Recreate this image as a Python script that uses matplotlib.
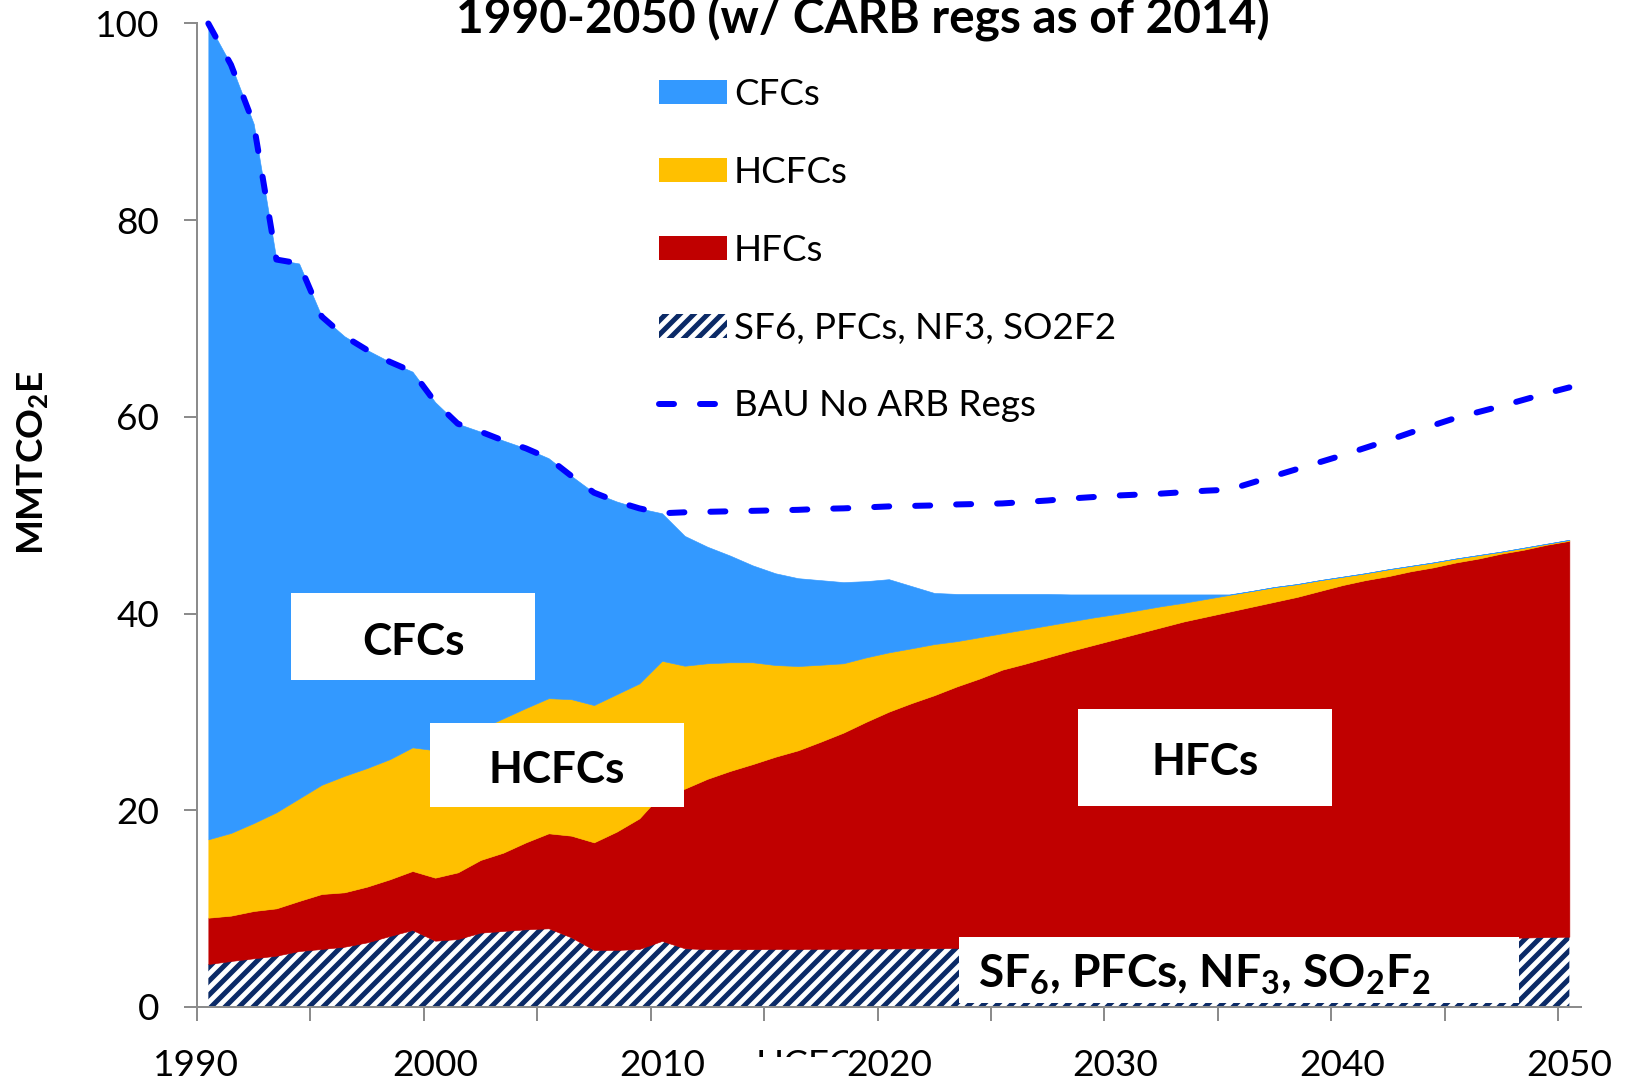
import numpy as np
import matplotlib
matplotlib.use("Agg")
import matplotlib.pyplot as plt
from matplotlib.patches import Patch, Rectangle
from matplotlib.lines import Line2D
from matplotlib.transforms import Bbox, ScaledTranslation

# ---------------- data (MMTCO2E) ----------------
years = list(range(1990, 2051))

sf6_pfc = [4.37, 4.68, 4.95, 5.22, 5.69, 5.90, 6.13, 6.57, 7.22, 7.83,
           6.74, 6.91, 7.56, 7.73, 7.90, 8.00, 7.08, 5.80, 5.80, 5.90,
           6.72, 5.97, 5.88, 5.88, 5.88, 5.90, 5.90, 5.92, 5.92, 5.94,
           5.95, 5.96, 5.97, 6.00, 6.04, 6.09, 6.13, 6.17, 6.21, 6.26,
           6.30, 6.34, 6.38, 6.43, 6.47, 6.51, 6.55, 6.60, 6.64, 6.68,
           6.72, 6.77, 6.81, 6.85, 6.89, 6.94, 6.98, 7.02, 7.06, 7.11,
           7.15]

hfcs = [4.71, 4.61, 4.81, 4.81, 5.09, 5.59, 5.53, 5.67, 5.76, 6.00,
        6.41, 6.78, 7.39, 7.96, 8.84, 9.66, 10.34, 10.94, 12.03, 13.28,
        14.98, 16.23, 17.32, 18.12, 18.82, 19.55, 20.20, 21.06, 21.98, 23.06,
        24.08, 24.94, 25.73, 26.60, 27.36, 28.21, 28.77, 29.38, 29.99, 30.54,
        31.10, 31.66, 32.22, 32.77, 33.23, 33.69, 34.15, 34.60, 35.06, 35.62,
        36.18, 36.63, 36.99, 37.45, 37.81, 38.26, 38.62, 39.08, 39.44, 39.89,
        40.25]

hcfcs = [7.97, 8.41, 8.94, 9.77, 10.42, 11.11, 11.84, 12.06, 12.22, 12.57,
         12.95, 13.51, 13.35, 13.66, 13.66, 13.74, 13.88, 13.96, 13.97, 13.72,
         13.50, 12.50, 11.75, 11.05, 10.35, 9.32, 8.57, 7.82, 7.05, 6.55,
         6.03, 5.57, 5.20, 4.60, 4.20, 3.70, 3.50, 3.25, 3.00, 2.80,
         2.55, 2.35, 2.15, 1.90, 1.80, 1.70, 1.60, 1.50, 1.30, 1.10,
         0.85, 0.70, 0.70, 0.55, 0.50, 0.40, 0.35, 0.20, 0.20, 0.10,
         0.10]

cfcs = [82.95, 78.10, 71.10, 56.20, 54.40, 47.60, 44.70, 42.50, 40.40, 38.20,
        35.40, 32.10, 30.20, 28.25, 26.40, 24.40, 22.70, 21.60, 19.60, 17.80,
        15.00, 13.20, 11.85, 10.85, 9.85, 9.33, 8.93, 8.60, 8.25, 7.75,
        7.44, 6.33, 5.20, 4.80, 4.40, 4.00, 3.60, 3.20, 2.75, 2.35,
        2.00, 1.60, 1.20, 0.85, 0.45, 0.05, 0.0, 0.0, 0.0, 0.0,
        0.0, 0.0, 0.0, 0.0, 0.0, 0.0, 0.0, 0.0, 0.0, 0.0,
        0.0]

bau_no_arb = [100.0, 95.8, 89.8, 76.0, 75.6, 70.2, 68.2, 66.8, 65.6, 64.6,
              61.5, 59.3, 58.5, 57.6, 56.8, 55.8, 54.0, 52.3, 51.4, 50.7,
              50.2, 50.3, 50.35, 50.4, 50.45, 50.5, 50.55, 50.65, 50.7, 50.8,
              50.9, 50.95, 51.0, 51.1, 51.15, 51.2, 51.35, 51.5, 51.7, 51.85,
              52.0, 52.1, 52.2, 52.35, 52.5, 52.6, 53.3, 54.0, 54.7, 55.4,
              56.1, 56.85, 57.6, 58.4, 59.15, 59.9, 60.5, 61.1, 61.75, 62.4,
              63.0]

y_ticks = [0, 20, 40, 60, 80, 100]
x_label_years = [1990, 2000, 2010, 2020, 2030, 2040, 2050]

series_names = ["CFCs", "HCFCs", "HFCs", "SF6, PFCs, NF3, SO2F2", "BAU No ARB Regs"]
title_text = "1990-2050 (w/ CARB regs as of 2014)"
y_label = r"MMTCO$_\mathbf{2}$E"

# ---------------- style ----------------
DPI = 84
W, H = 1625, 1081


def pt(px):
    return px * 72.0 / DPI


C_BLUE = "#3399FF"
C_GOLD = "#FFC000"
C_RED = "#C00000"
C_NAVY = "#0B2A66"
C_DASH = "#0000FF"
C_AXIS = "#8C8C8C"

plt.rcParams["font.family"] = ["Lato", "DejaVu Sans"]
plt.rcParams["mathtext.fontset"] = "custom"
plt.rcParams["mathtext.rm"] = "Lato"
plt.rcParams["mathtext.bf"] = "Lato:bold"
plt.rcParams["mathtext.it"] = "Lato:italic"
plt.rcParams["hatch.linewidth"] = pt(5.0)
plt.rcParams["hatch.color"] = C_NAVY

fig = plt.figure(figsize=(W / DPI, H / DPI), dpi=DPI)
ax_left, ax_right, ax_top, ax_bottom = 197, 1580.7, 23.5, 1007
ax = fig.add_axes([ax_left / W, 1 - ax_bottom / H,
                   (ax_right - ax_left) / W, (ax_bottom - ax_top) / H])

HATCH = "//"
x = np.array(years, dtype=float)
base = np.zeros(len(x))
layers = [(sf6_pfc, "white", HATCH), (hfcs, C_RED, None),
          (hcfcs, C_GOLD, None), (cfcs, C_BLUE, None)]
for vals, col, hatch in layers:
    top = base + np.array(vals)
    if hatch:
        ax.fill_between(x, base, top, facecolor=col, edgecolor=C_NAVY,
                        linewidth=0, hatch=hatch, zorder=2)
    else:
        ax.fill_between(x, base, top, facecolor=col, edgecolor=col,
                        linewidth=pt(0.6), zorder=2)
    base = top

LW = 6.0
DASH = (0, (2.5, 4.33))
ax.plot(x, bau_no_arb, color=C_DASH, lw=pt(LW), linestyle=DASH,
        dash_capstyle="round", zorder=4, clip_on=False)

ax.set_xlim(1989.5, 2050.5)
ax.set_ylim(0, 100)
for s in ["top", "right"]:
    ax.spines[s].set_visible(False)
for s in ["left", "bottom"]:
    ax.spines[s].set_color(C_AXIS)
    ax.spines[s].set_linewidth(pt(2))
    ax.spines[s].set_zorder(5)

TICK_FS = 37
ax.set_yticks(y_ticks)
ax.set_yticklabels([str(v) for v in y_ticks])
ax.tick_params(axis="y", direction="out", length=pt(13), width=pt(2),
               color=C_AXIS, labelsize=pt(TICK_FS), pad=pt(25))
ax.set_xticks(x_label_years)
ax.set_xticklabels([str(v) for v in x_label_years])
ax.set_xticks(np.arange(1989.5, 2051, 5), minor=True)
ax.tick_params(axis="x", which="major", length=0, labelsize=pt(TICK_FS), pad=pt(42))
ax.tick_params(axis="x", which="minor", direction="out", length=pt(14),
               width=pt(2), color=C_AXIS)
# first label sits slightly left of its category, as in the source
first = ax.get_xticklabels()[0]
first.set_transform(first.get_transform() + ScaledTranslation(-12 / DPI, 0, fig.dpi_scale_trans))

# title (top partially cut by the canvas edge, as in the source)
fig.text(862.5 / W, 1 - 34 / H, title_text, ha="center", va="baseline",
         fontsize=pt(47.8), fontweight="bold")

# y label
fig.text(43 / W, 1 - 463 / H, y_label, rotation=90, ha="center", va="baseline",
         fontsize=pt(37), fontweight="bold", rotation_mode="anchor")

# legend
handles = [Patch(facecolor=C_BLUE, edgecolor="none"),
           Patch(facecolor=C_GOLD, edgecolor="none"),
           Patch(facecolor=C_RED, edgecolor="none"),
           Patch(facecolor="white", edgecolor=C_NAVY, hatch=HATCH, linewidth=0),
           Line2D([0], [0], color=C_DASH, lw=pt(LW), linestyle=DASH,
                  dash_capstyle="round")]
fs_leg = 36.7
leg = fig.legend(handles, series_names, loc="upper left",
                 bbox_to_anchor=(659 / W, 1 - 78 / H), frameon=False,
                 fontsize=pt(fs_leg), handlelength=68 / fs_leg,
                 handleheight=23 / fs_leg, handletextpad=0.185,
                 labelspacing=1.222, borderpad=0, borderaxespad=0)


# white label boxes
def box(x0, y0, x1, y1):
    fig.add_artist(Rectangle((x0 / W, 1 - y1 / H), (x1 - x0) / W, (y1 - y0) / H,
                             transform=fig.transFigure, facecolor="white",
                             edgecolor="none", zorder=6))


box(291, 593, 535, 680)
fig.text(413 / W, 1 - 655 / H, "CFCs", ha="center", va="baseline",
         fontsize=pt(44), fontweight="bold", zorder=7)
box(430, 723, 684, 807)
fig.text(557 / W, 1 - 783 / H, "HCFCs", ha="center", va="baseline",
         fontsize=pt(44), fontweight="bold", zorder=7)
box(1078, 709, 1332, 806)
fig.text(1205 / W, 1 - 775 / H, "HFCs", ha="center", va="baseline",
         fontsize=pt(44), fontweight="bold", zorder=7)
box(959, 937, 1519, 1003)
fig.text(978 / W, 1 - 988 / H,
         r"SF$_\mathbf{6}$, PFCs, NF$_\mathbf{3}$, SO$_\mathbf{2}$F$_\mathbf{2}$",
         ha="left", va="baseline", fontsize=pt(46), fontweight="bold", zorder=7)

# stray, mostly hidden text fragment under the axis (as in the source)
frag = fig.text(756 / W, 1 - 1076 / H, "HCFC", ha="left", va="baseline",
                fontsize=pt(TICK_FS), zorder=7)
frag.set_clip_box(Bbox.from_extents(740, H - 1057, 848, H - 1050))
frag.set_clip_on(True)

fig.savefig("out.png", dpi=DPI)
